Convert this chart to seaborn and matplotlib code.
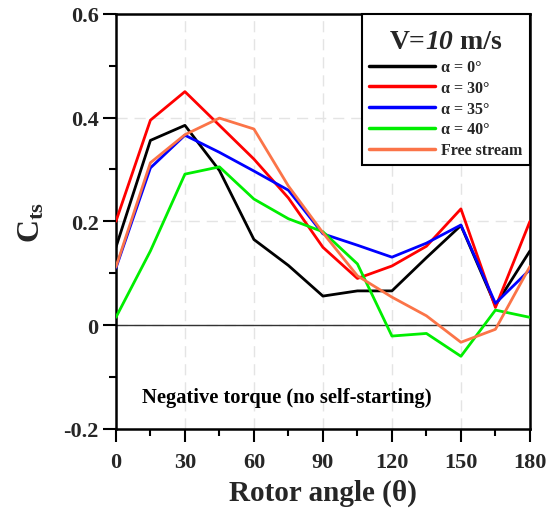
import numpy as np
import pandas as pd
import seaborn as sns
import matplotlib
matplotlib.use("Agg")
import matplotlib.pyplot as plt
from matplotlib.ticker import MultipleLocator
from matplotlib.offsetbox import TextArea, HPacker, VPacker, DrawingArea

# Rotor angle (degrees)
angle = [0, 15, 30, 45, 60, 75, 90, 105, 120, 135, 150, 165, 180]

# Static torque coefficient for each configuration
cts_a0 = [0.150, 0.356, 0.385, 0.298, 0.165, 0.115, 0.056, 0.066, 0.066, 0.130, 0.192, 0.038, 0.143]
cts_a30 = [0.200, 0.395, 0.450, 0.385, 0.320, 0.245, 0.150, 0.090, 0.114, 0.152, 0.224, 0.034, 0.200]
cts_a35 = [0.110, 0.303, 0.366, 0.333, 0.297, 0.260, 0.176, 0.154, 0.131, 0.158, 0.193, 0.042, 0.107]
cts_a40 = [0.015, 0.143, 0.291, 0.305, 0.243, 0.205, 0.180, 0.118, -0.021, -0.016, -0.060, 0.029, 0.015]
cts_free = [0.112, 0.313, 0.367, 0.399, 0.378, 0.268, 0.178, 0.095, 0.054, 0.018, -0.033, -0.008, 0.113]

series_names = ["α = 0°", "α = 30°", "α = 35°", "α = 40°", "Free stream"]
series_values = [cts_a0, cts_a30, cts_a35, cts_a40, cts_free]
series_colors = ["#000000", "#ff0000", "#0000ff", "#00ee00", "#fb7448"]

df = pd.DataFrame(
    [(a, v, name) for name, vals in zip(series_names, series_values) for a, v in zip(angle, vals)],
    columns=["angle", "cts", "case"],
)

sns.set_theme(style="white")
plt.rcParams["font.family"] = ["Liberation Serif", "DejaVu Serif"]
plt.rcParams["font.weight"] = "bold"
plt.rcParams["mathtext.fontset"] = "custom"
plt.rcParams["mathtext.rm"] = "Liberation Serif:bold"
plt.rcParams["mathtext.bf"] = "Liberation Serif:bold"
plt.rcParams["mathtext.it"] = "Liberation Serif:bold:italic"

fig = plt.figure(figsize=(5.52, 5.10), dpi=100)
ax = fig.add_axes([0.210, 0.157, 0.750, 0.814])

sns.lineplot(
    data=df, x="angle", y="cts", hue="case", hue_order=series_names,
    palette=dict(zip(series_names, series_colors)), linewidth=2.0,
    estimator=None, sort=False, ax=ax, zorder=3,
)

ax.axhline(0, color="#333333", linewidth=1.0, zorder=2)

ax.set_xlim(0, 180)
ax.set_ylim(-0.2, 0.6)
ax.xaxis.set_major_locator(MultipleLocator(30))
ax.xaxis.set_minor_locator(MultipleLocator(15))
ax.yaxis.set_minor_locator(MultipleLocator(0.1))
ax.set_yticks([-0.2, 0, 0.2, 0.4, 0.6])
ax.set_yticklabels(["-0.2", "0", "0.2", "0.4", "0.6"])

ax.tick_params(axis="both", which="major", direction="out", length=9.5, width=1.5,
               labelsize=16, color="black", bottom=True, left=True, pad=3)
ax.tick_params(axis="x", which="major", pad=7)
ax.tick_params(axis="both", which="minor", direction="out", length=5, width=1.5,
               color="black", bottom=True, left=True)
for lab in ax.get_xticklabels() + ax.get_yticklabels():
    lab.set_fontweight("bold")

ax.grid(True, which="major", color="#e4e4e4", linestyle=(0, (8, 5)), linewidth=1.0, zorder=0)

for sp in ax.spines.values():
    sp.set_color("black")
    sp.set_linewidth(1.8)

ax.set_xlabel("Rotor angle (θ)", fontsize=21, fontweight="bold", labelpad=5)
ax.set_ylabel(r"$\mathrm{C_{ts}}$", fontsize=23, labelpad=12)

ax.text(11.3, -0.139, "Negative torque (no self-starting)", fontsize=14.8,
        fontweight="bold", va="center", ha="left", color="black")

handles, labels = ax.get_legend_handles_labels()
leg = ax.legend(
    handles, labels, title=" ", loc="upper right",
    bbox_to_anchor=(1.0, 1.0), frameon=True, fancybox=False, framealpha=1,
    edgecolor="black", prop={"size": 11.5, "weight": "bold"},
    handlelength=4.1, handletextpad=0.4, labelspacing=0.3,
    borderpad=0.45, borderaxespad=0.0,
)
leg.get_frame().set_linewidth(1.5)
for line in leg.get_lines():
    line.set_linewidth(2.5)

# Legend heading with an italic speed value
title_props = dict(fontsize=20, fontweight="bold", family="Liberation Serif")
heading = HPacker(
    children=[
        TextArea("V=", textprops=title_props),
        TextArea("10", textprops=dict(title_props, fontstyle="italic")),
        TextArea(" m/s", textprops=title_props),
    ],
    align="baseline", pad=0, sep=0,
)
heading_box = VPacker(children=[DrawingArea(1, 6), heading], align="center", pad=0, sep=0)
heading_box.set_figure(fig)
leg._legend_box._children[0] = heading_box

fig.savefig("out.png", dpi=100, facecolor="white")
